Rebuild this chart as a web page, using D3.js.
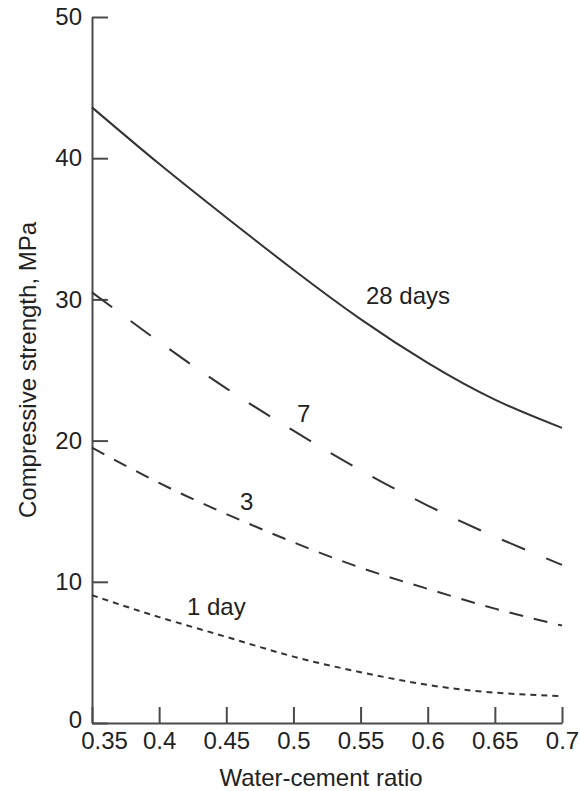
<!DOCTYPE html>
<html><head><meta charset="utf-8">
<script src="https://cdn.jsdelivr.net/npm/d3@7"></script>
<style>
html,body{margin:0;padding:0;background:#fff;}
svg{display:block;}
text{font-family:"Liberation Sans",Arial,sans-serif;fill:#222;}
</style></head>
<body>
<svg id="chart" width="580" height="791"></svg>
<script>
const ratios = [0.35, 0.4, 0.45, 0.5, 0.55, 0.6, 0.65, 0.7];
const day28 = [43.6, 39.6, 35.8, 32.1, 28.6, 25.5, 22.9, 20.9];
const day7  = [30.5, 27.0, 23.7, 20.7, 17.9, 15.4, 13.2, 11.2];
const day3  = [19.5, 17.0, 14.8, 12.8, 11.0, 9.5, 8.1, 6.9];
const day1  = [9.05, 7.5, 6.1, 4.7, 3.6, 2.7, 2.15, 1.9];
const xTicks = [0.35, 0.4, 0.45, 0.5, 0.55, 0.6, 0.65, 0.7];
const yTicks = [0, 10, 20, 30, 40, 50];
const seriesNames = ["28 days", "7", "3", "1 day"];

const series = [
  {name: seriesNames[0], values: day28, dash: null,  lx: 366, ly: 304},
  {name: seriesNames[1], values: day7,  dash: "25,23", lx: 297, ly: 422},
  {name: seriesNames[2], values: day3,  dash: "14,11", lx: 240, ly: 510},
  {name: seriesNames[3], values: day1,  dash: "6,5",  lx: 187, ly: 615}
];

const svg = d3.select("#chart");
const x = d3.scaleLinear().domain([0.35, 0.7]).range([92, 562]);
const y = d3.scaleLinear().domain([0, 50]).range([723, 17]);

const fs = 24;

// axes
const xAxis = d3.axisBottom(x).tickValues(xTicks).tickFormat(d => String(d))
  .tickSizeInner(-16).tickSizeOuter(0).tickPadding(9);
const gx = svg.append("g").attr("transform", `translate(0,${y(0)})`).call(xAxis);
const yAxis = d3.axisLeft(y).tickValues(yTicks).tickFormat(d => String(d))
  .tickSizeInner(-16).tickSizeOuter(0).tickPadding(10);
const gy = svg.append("g").attr("transform", `translate(${x(0.35)},0)`).call(yAxis);

[gx, gy].forEach(g => {
  g.select(".domain").attr("stroke", "#4a4a4a").attr("stroke-width", 2);
  g.selectAll(".tick line").attr("stroke", "#4a4a4a").attr("stroke-width", 2);
  g.selectAll(".tick text").attr("fill", "#222").style("font-size", fs + "px")
    .style("font-family", '"Liberation Sans", Arial, sans-serif');
});
gx.selectAll(".tick text").filter(d => d === 0.35).attr("dx", 12);
gy.selectAll(".tick text").filter(d => d === 0).attr("dy", "0.2em");

// curves
const line = d3.line()
  .x((d, i) => x(ratios[i]))
  .y(d => y(d))
  .curve(d3.curveNatural);

svg.append("g").selectAll("path.curve").data(series).join("path")
  .attr("class", "curve")
  .attr("d", s => line(s.values))
  .attr("fill", "none")
  .attr("stroke", "#333")
  .attr("stroke-width", 2)
  .attr("stroke-dasharray", s => s.dash);

svg.append("g").selectAll("text.lbl").data(series).join("text")
  .attr("class", "lbl")
  .attr("x", s => s.lx).attr("y", s => s.ly)
  .style("font-size", fs + "px")
  .text(s => s.name);

// axis titles
svg.append("text")
  .attr("x", 321).attr("y", 786)
  .attr("text-anchor", "middle")
  .style("font-size", fs + "px")
  .text("Water-cement ratio");

svg.append("text")
  .attr("transform", `translate(36,${(y(0)+y(50))/2}) rotate(-90)`)
  .attr("text-anchor", "middle")
  .style("font-size", fs + "px")
  .text("Compressive strength, MPa");
</script>
</body></html>
